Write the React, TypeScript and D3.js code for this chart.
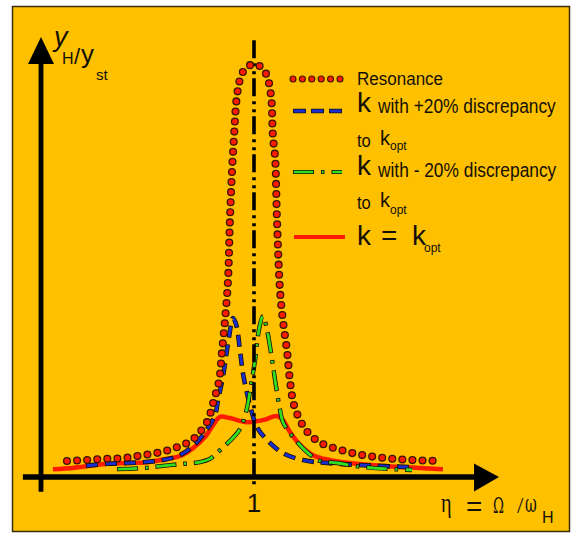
import * as d3 from 'd3';
import { useEffect, useRef } from 'react';

// eta = Omega / omega_H, amplitude ratio yH/yst
const resonanceEta = [0.122, 0.211, 0.300, 0.390, 0.479, 0.568, 0.653, 0.695, 0.732, 0.761, 0.784, 0.812, 0.836, 0.850, 0.864, 0.878, 0.887, 0.897, 0.906, 0.920, 0.939, 0.962, 1.000, 1.038, 1.061, 1.080, 1.089, 1.099, 1.108, 1.122, 1.136, 1.155, 1.169, 1.183, 1.197, 1.216, 1.239, 1.268, 1.305, 1.347, 1.390, 1.479, 1.563, 1.653, 1.746, 1.878]
const resonanceAmp = [0.39, 0.41, 0.44, 0.46, 0.53, 0.61, 0.75, 0.85, 1.00, 1.19, 1.38, 1.87, 2.33, 3.06, 3.81, 4.78, 6.24, 7.45, 8.25, 9.25, 9.73, 9.93, 10.02, 9.93, 9.73, 9.25, 8.25, 7.77, 6.24, 4.54, 3.79, 3.06, 2.33, 1.84, 1.60, 1.38, 1.17, 1.00, 0.85, 0.75, 0.68, 0.56, 0.49, 0.44, 0.41, 0.39]

const plusEta = [0.211, 0.310, 0.404, 0.479, 0.568, 0.643, 0.714, 0.770, 0.817, 0.831, 0.854, 0.873, 0.883, 0.901, 0.917, 0.934, 0.948, 0.967, 0.991, 1.014, 1.061, 1.136, 1.230, 1.343, 1.577, 1.732]
const plusAmp = [0.27, 0.32, 0.34, 0.36, 0.41, 0.51, 0.75, 1.09, 1.50, 1.87, 2.43, 3.08, 3.40, 3.86, 3.69, 3.08, 2.52, 2.04, 1.55, 1.21, 0.90, 0.58, 0.41, 0.34, 0.27, 0.24]

const minusEta = [0.357, 0.488, 0.573, 0.667, 0.746, 0.793, 0.831, 0.878, 0.925, 0.948, 0.967, 0.986, 1.005, 1.023, 1.042, 1.061, 1.085, 1.099, 1.122, 1.136, 1.183, 1.254, 1.310, 1.390, 1.512, 1.742]
const minusAmp = [0.19, 0.22, 0.27, 0.32, 0.36, 0.44, 0.61, 0.83, 1.09, 1.33, 1.67, 2.23, 2.84, 3.57, 3.91, 3.57, 2.84, 2.35, 1.63, 1.33, 0.97, 0.58, 0.39, 0.34, 0.24, 0.17]

const optEta = [0.056, 0.150, 0.230, 0.310, 0.404, 0.498, 0.592, 0.653, 0.714, 0.770, 0.808, 0.840, 0.887, 0.967, 1.042, 1.108, 1.136, 1.169, 1.216, 1.277, 1.357, 1.418, 1.545, 1.700, 1.887]
const optAmp = [0.19, 0.22, 0.27, 0.32, 0.34, 0.36, 0.44, 0.51, 0.70, 0.97, 1.26, 1.46, 1.43, 1.33, 1.38, 1.48, 1.38, 1.09, 0.78, 0.53, 0.41, 0.36, 0.29, 0.24, 0.19]

const xTicks = [1]
const legendTexts = ['Resonance', 'with +20% discrepancy', 'with - 20% discrepancy']

const INK = '#141008'
const SANS = '"Liberation Sans", Arial, sans-serif'
const SERIF = '"Liberation Serif", "DejaVu Serif", serif'
const GREEK = '"DejaVu Serif", serif'

export default function App() {
  const svgRef = useRef<SVGSVGElement>(null)

  useEffect(() => {
    if (svgRef.current) drawChart(svgRef.current)
  }, [svgRef])

  return (
    <div>
      <svg ref={svgRef} style={{ position: 'absolute', left: 0, top: 0 }}></svg>
    </div>
  )
}

type TextSel = d3.Selection<SVGTextElement, unknown, null, undefined>

function drawChart(el: SVGSVGElement) {
  const w = 573
  const h = 533

  const svg = d3.select(el).attr('width', w).attr('height', h)
  svg.selectAll('*').remove()

  const x = d3.scaleLinear().domain([0, 2]).range([41, 467])
  const y = d3.scaleLinear().domain([0, 10]).range([477, 65])

  svg.append('rect')
    .attr('x', 12.5).attr('y', 6.5)
    .attr('width', 557).attr('height', 525)
    .attr('fill', '#ffc000')
    .attr('stroke', '#3b2f0a').attr('stroke-width', 1.5)

  const line = d3.line<[number, number]>()
    .x(d => x(d[0]))
    .y(d => y(d[1]))
    .curve(d3.curveCatmullRom.alpha(0.5))

  const zip = (a: number[], b: number[]) => a.map((v, i) => [v, b[i]] as [number, number])

  // outlined dashed stroke: dark outer dash, coloured inner dash
  const outlined = (d: string, color: string, pattern: number[], width: number) => {
    svg.append('path').attr('d', d).attr('fill', 'none')
      .attr('stroke', INK).attr('stroke-width', width + 1.6)
      .attr('stroke-dasharray', pattern.join(','))
    const inner = pattern.map((v, i) => i % 2 === 0 ? Math.max(v - 1.6, 0.5) : v + 1.6)
    svg.append('path').attr('d', d).attr('fill', 'none')
      .attr('stroke', color).attr('stroke-width', width)
      .attr('stroke-dasharray', inner.join(','))
      .attr('stroke-dashoffset', -0.8)
  }

  const bluePattern = [12, 7]
  const greenPattern = [21, 7, 3.5, 7]

  // k = k_opt
  svg.append('path')
    .attr('d', line(zip(optEta, optAmp)))
    .attr('fill', 'none')
    .attr('stroke', '#ff1a00')
    .attr('stroke-width', 4.5)

  outlined(line(zip(plusEta, plusAmp)) as string, '#1a2ecf', bluePattern, 3)
  outlined(line(zip(minusEta, minusAmp)) as string, '#33dd22', greenPattern, 2.8)

  // axes
  svg.append('line')
    .attr('x1', x(0)).attr('x2', x(0))
    .attr('y1', y(-0.36)).attr('y2', 62)
    .attr('stroke', '#000').attr('stroke-width', 4.8)
  svg.append('path')
    .attr('d', `M${x(0)},37L${x(0) - 13},64L${x(0) + 13},64Z`)
    .attr('fill', '#000')
  svg.append('line')
    .attr('x1', x(-0.085)).attr('x2', 476)
    .attr('y1', y(0)).attr('y2', y(0))
    .attr('stroke', '#000').attr('stroke-width', 5.5)
  svg.append('path')
    .attr('d', `M499,${y(0)}L474,${y(0) - 13.5}L474,${y(0) + 14.5}Z`)
    .attr('fill', '#000')

  // eta = 1 dash-dot marker
  svg.selectAll('line.tick')
    .data(xTicks)
    .enter()
    .append('line')
    .attr('class', 'tick')
    .attr('x1', d => x(d)).attr('x2', d => x(d))
    .attr('y1', y(10.6)).attr('y2', y(-0.2))
    .attr('stroke', '#000').attr('stroke-width', 3.6)
    .attr('stroke-dasharray', '18,5,3,5,3,4')

  svg.selectAll('text.tick')
    .data(xTicks)
    .enter()
    .append('text')
    .attr('class', 'tick')
    .attr('x', d => x(d)).attr('y', 512)
    .attr('text-anchor', 'middle')
    .attr('font-family', SANS).attr('font-size', 26)
    .attr('fill', INK)
    .text(d => d)

  // resonance: dots spaced along the curve
  const resPath = svg.append('path')
    .attr('d', line(zip(resonanceEta, resonanceAmp)))
    .attr('fill', 'none').attr('stroke', 'none')
  const node = resPath.node() as SVGPathElement
  const len = node.getTotalLength()
  const pts: DOMPoint[] = []
  for (let s = 0; s <= len; s += 10.1) pts.push(node.getPointAtLength(s))
  svg.append('g').selectAll('circle')
    .data(pts)
    .enter()
    .append('circle')
    .attr('cx', d => d.x).attr('cy', d => d.y)
    .attr('r', 3.4)
    .attr('fill', '#ff1a00')
    .attr('stroke', '#3a1500').attr('stroke-width', 1.3)

  // legend
  const lg = svg.append('g')
  d3.range(6).forEach(i => {
    lg.append('circle')
      .attr('cx', 293 + i * 9.4).attr('cy', 79).attr('r', 3)
      .attr('fill', '#ff1a00').attr('stroke', '#3a1500').attr('stroke-width', 1.1)
  })
  const legLine = (yy: number) => `M293,${yy}L342,${yy}`
  lg.append('path').attr('d', legLine(111)).attr('stroke', INK).attr('stroke-width', 4.4).attr('stroke-dasharray', '13,5')
  lg.append('path').attr('d', legLine(111)).attr('stroke', '#1a2ecf').attr('stroke-width', 2.8).attr('stroke-dasharray', '11.4,6.6').attr('stroke-dashoffset', -0.8)
  lg.append('path').attr('d', legLine(172)).attr('stroke', INK).attr('stroke-width', 4.2).attr('stroke-dasharray', greenPattern.join(','))
  lg.append('path').attr('d', legLine(172)).attr('stroke', '#33dd22').attr('stroke-width', 2.6)
    .attr('stroke-dasharray', greenPattern.map((v, i) => i % 2 === 0 ? Math.max(v - 1.6, 0.5) : v + 1.6).join(','))
    .attr('stroke-dashoffset', -0.8)
  lg.append('path').attr('d', 'M294,237L345,237').attr('stroke', '#ff1a00').attr('stroke-width', 4)

  const txt = (tx: number, ty: number, s: string, size: number, family = SANS, extra?: (t: TextSel) => void) => {
    const t = svg.append('text')
      .attr('x', tx).attr('y', ty)
      .attr('font-family', family).attr('font-size', size)
      .attr('fill', INK)
      .text(s)
    if (extra) extra(t)
    return t
  }

  // narrow glyphs horizontally, keep their height
  const squeeze = (sx: number) => (t: TextSel) => {
    const ox = +t.attr('x')
    const oy = +t.attr('y')
    t.attr('x', 0).attr('y', 0).attr('transform', `translate(${ox},${oy}) scale(${sx},1)`)
  }

  txt(357, 85, legendTexts[0], 18.5, SANS, squeeze(0.92))
  txt(357, 112, 'k', 28)
  txt(378, 113, legendTexts[1], 19.5, SANS, squeeze(0.89))
  txt(357, 147, 'to', 18, SANS, squeeze(0.92))
  txt(380, 145, 'k', 20)
  txt(390, 150, 'opt', 12)
  txt(357, 175, 'k', 28)
  txt(378, 177, legendTexts[2], 19.5, SANS, squeeze(0.89))
  txt(357, 209, 'to', 18, SANS, squeeze(0.92))
  txt(380, 207, 'k', 20)
  txt(390, 214, 'opt', 12)
  txt(357, 245, 'k', 28)
  txt(381, 245, '=', 28)
  txt(412, 245, 'k', 28)
  txt(424, 252, 'opt', 12)

  // y axis label
  txt(54, 46, 'y', 27, SANS, t => t.attr('font-style', 'italic'))
  txt(62, 64, 'H', 16)
  txt(74, 64, '/', 22)
  txt(81, 63, 'y', 26)
  txt(96, 80, 'st', 15)

  // x axis label
  txt(441, 512, 'η', 27, SERIF, squeeze(0.75))
  txt(466, 516, '=', 28)
  txt(493, 513, 'Ω', 22, GREEK, squeeze(0.6))
  txt(517, 513, '/', 23, SERIF)
  txt(525, 512, 'ω', 24, GREEK, squeeze(0.6))
  txt(542, 523, 'H', 16)
}
